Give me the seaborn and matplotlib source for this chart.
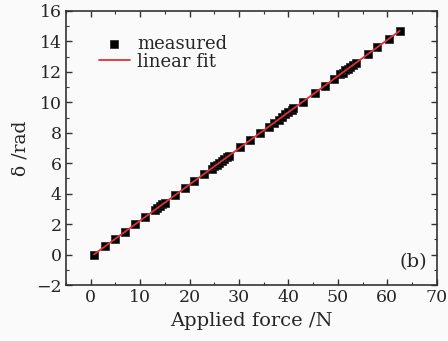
import matplotlib
matplotlib.use("Agg")
import matplotlib.pyplot as plt
import seaborn as sns
import numpy as np
import pandas as pd
from matplotlib.ticker import MultipleLocator

# measured points
force = [0.7, 3.0, 5.0, 7.0, 9.0, 11.0, 13.0, 13.5, 14.0, 14.5, 15.0, 17.0,
         19.0, 21.0, 23.0, 24.5, 25.0, 25.5, 26.0, 26.5, 27.0, 27.5, 28.0,
         30.3, 32.3, 34.3, 36.0, 37.0, 38.0, 38.7, 39.3, 40.0, 40.7, 41.0,
         43.0, 45.3, 47.3, 49.3, 50.5, 51.0, 51.5, 52.0, 52.5, 53.0, 53.7,
         56.0, 58.0, 60.3, 62.5]
delta = [0.0, 0.55, 1.05, 1.5, 2.0, 2.45, 2.95, 3.05, 3.2, 3.3, 3.4, 3.9,
         4.35, 4.85, 5.3, 5.65, 5.8, 5.9, 6.0, 6.15, 6.25, 6.4, 6.5,
         7.05, 7.5, 8.0, 8.4, 8.65, 8.85, 9.05, 9.2, 9.35, 9.5, 9.6,
         10.05, 10.6, 11.1, 11.55, 11.85, 11.95, 12.1, 12.2, 12.3, 12.45, 12.6,
         13.15, 13.6, 14.15, 14.7]

df = pd.DataFrame({"force": force, "delta": delta})

# linear fit
k, b = np.polyfit(df["force"], df["delta"], 1)
fit_x = np.array([min(force), max(force)])
fit = pd.DataFrame({"force": fit_x, "delta": k * fit_x + b})

sns.set_style("ticks")
plt.rcParams['font.family'] = ['DejaVu Serif']

fig = plt.figure(figsize=(4.48, 3.41), dpi=100, facecolor='#fafafa')
ax = fig.add_axes([0.147, 0.164, 0.828, 0.804])
ax.set_facecolor('#fafafa')

sns.scatterplot(data=df, x="force", y="delta", marker="s", color="black",
                s=26, edgecolor="#222222", linewidth=0.5, ax=ax, label="measured", zorder=2)
sns.lineplot(data=fit, x="force", y="delta", color="#e0303a", linewidth=1.3,
             ax=ax, label="linear fit", zorder=3)

ax.set_xlim(-5, 70)
ax.set_ylim(-2, 16)
ax.xaxis.set_major_locator(MultipleLocator(10))
ax.xaxis.set_minor_locator(MultipleLocator(5))
ax.yaxis.set_major_locator(MultipleLocator(2))
ax.yaxis.set_minor_locator(MultipleLocator(1))
ax.tick_params(which="both", direction="in", top=True, right=True,
               labelsize=12.5, color="#333333")
ax.tick_params(which="major", length=4, width=1, pad=3)
ax.tick_params(which="minor", length=2.5, width=0.8)
for sp in ax.spines.values():
    sp.set_linewidth(1.2)
    sp.set_color("#333333")

ax.set_xlabel("Applied force /N", fontsize=14, labelpad=4)
ax.set_ylabel("δ /rad", fontsize=13.5, labelpad=5)

ax.text(0.975, 0.05, "(b)", transform=ax.transAxes, ha="right", va="bottom", fontsize=14)

leg = ax.legend(loc="upper left", bbox_to_anchor=(0.07, 0.94), frameon=False,
                fontsize=13, handlelength=1.7, handletextpad=0.4,
                labelspacing=0.0, borderaxespad=0)

fig.savefig("out.png", dpi=100, facecolor=fig.get_facecolor())
